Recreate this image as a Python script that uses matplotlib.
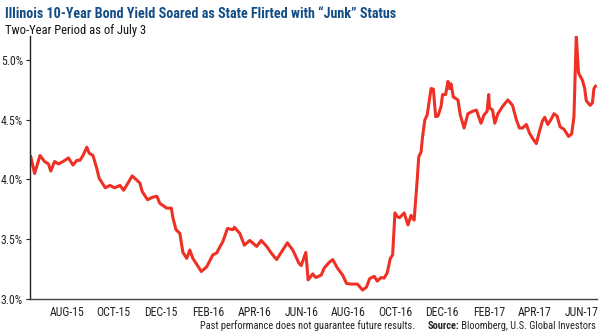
import numpy as np
import matplotlib
matplotlib.use("Agg")
import matplotlib.pyplot as plt

plt.rcParams["font.family"] = ["Roboto Condensed", "Archivo Narrow", "Asap Condensed", "DejaVu Sans"]
TITLE_FONT = ["Roboto Condensed", "Asap Condensed", "Saira Condensed", "DejaVu Sans"]

# Illinois 10-year bond yield, %
dates = [
    "2015-06-29", "2015-07-04", "2015-07-11", "2015-07-17", "2015-07-22", "2015-07-25",
    "2015-07-30", "2015-08-04", "2015-08-10", "2015-08-17", "2015-08-23", "2015-08-28",
    "2015-09-01", "2015-09-05", "2015-09-10", "2015-09-13", "2015-09-18", "2015-09-23",
    "2015-09-26", "2015-09-29", "2015-10-04", "2015-10-10", "2015-10-16", "2015-10-23",
    "2015-10-28", "2015-11-08", "2015-11-18", "2015-11-21", "2015-11-28", "2015-12-04",
    "2015-12-10", "2015-12-14", "2015-12-23", "2015-12-29", "2015-12-31", "2016-01-04",
    "2016-01-09", "2016-01-13", "2016-01-18", "2016-01-22", "2016-01-26", "2016-02-01",
    "2016-02-06", "2016-02-13", "2016-02-17", "2016-02-21", "2016-02-26", "2016-03-01",
    "2016-03-05", "2016-03-11", "2016-03-18", "2016-03-20", "2016-03-27", "2016-04-02",
    "2016-04-09", "2016-04-18", "2016-04-24", "2016-05-01", "2016-05-07", "2016-05-14",
    "2016-05-20", "2016-05-28", "2016-06-04", "2016-06-12", "2016-06-15", "2016-06-21",
    "2016-06-24", "2016-06-30", "2016-07-04", "2016-07-11", "2016-07-15", "2016-07-22",
    "2016-07-26", "2016-08-01", "2016-08-08", "2016-08-13", "2016-08-19", "2016-08-27",
    "2016-09-03", "2016-09-08", "2016-09-12", "2016-09-18", "2016-09-22", "2016-09-27",
    "2016-10-01", "2016-10-05", "2016-10-09", "2016-10-12", "2016-10-15", "2016-10-18",
    "2016-10-21", "2016-10-27", "2016-11-01", "2016-11-05", "2016-11-09", "2016-11-13",
    "2016-11-15", "2016-11-18", "2016-11-20", "2016-11-23", "2016-11-26", "2016-12-01",
    "2016-12-04", "2016-12-07", "2016-12-10", "2016-12-14", "2016-12-16", "2016-12-20",
    "2016-12-23", "2016-12-25", "2016-12-27", "2016-12-30", "2017-01-05", "2017-01-08",
    "2017-01-13", "2017-01-18", "2017-01-24", "2017-01-29", "2017-02-04", "2017-02-08",
    "2017-02-12", "2017-02-14", "2017-02-15", "2017-02-19", "2017-02-22", "2017-02-26",
    "2017-03-04", "2017-03-11", "2017-03-17", "2017-03-22", "2017-03-26", "2017-03-30",
    "2017-04-04", "2017-04-08", "2017-04-12", "2017-04-17", "2017-04-21", "2017-04-25",
    "2017-04-28", "2017-05-02", "2017-05-06", "2017-05-10", "2017-05-14", "2017-05-18",
    "2017-05-23", "2017-05-29", "2017-06-02", "2017-06-05", "2017-06-08", "2017-06-11",
    "2017-06-16", "2017-06-19", "2017-06-21", "2017-06-26", "2017-06-29", "2017-07-01",
    "2017-07-03",
]
yields = [
    4.19, 4.05, 4.20, 4.15, 4.13, 4.07,
    4.15, 4.13, 4.15, 4.18, 4.12, 4.16,
    4.16, 4.20, 4.27, 4.22, 4.20, 4.09,
    4.01, 3.98, 3.93, 3.95, 3.93, 3.95,
    3.91, 4.03, 3.97, 3.90, 3.83, 3.85,
    3.86, 3.80, 3.76, 3.76, 3.68, 3.58,
    3.55, 3.39, 3.34, 3.41, 3.34, 3.28,
    3.23, 3.27, 3.32, 3.37, 3.385, 3.435,
    3.48, 3.59, 3.58, 3.60, 3.55, 3.45,
    3.49, 3.44, 3.49, 3.44, 3.385, 3.33,
    3.39, 3.47, 3.41, 3.30, 3.28, 3.39,
    3.16, 3.21, 3.18, 3.20, 3.26, 3.31,
    3.33, 3.26, 3.20, 3.13, 3.125, 3.125,
    3.075, 3.10, 3.17, 3.19, 3.15, 3.18,
    3.175, 3.22, 3.34, 3.37, 3.72, 3.69,
    3.68, 3.72, 3.62, 3.70, 3.66, 4.00,
    4.19, 4.23, 4.36, 4.50, 4.54, 4.76,
    4.755, 4.525, 4.53, 4.61, 4.71, 4.71,
    4.82, 4.76, 4.80, 4.69, 4.665, 4.54,
    4.43, 4.55, 4.57, 4.58, 4.47, 4.54,
    4.57, 4.71, 4.60, 4.58, 4.47, 4.55,
    4.61, 4.665, 4.62, 4.50, 4.43, 4.43,
    4.46, 4.39, 4.345, 4.30, 4.40, 4.49,
    4.52, 4.46, 4.50, 4.55, 4.53, 4.44,
    4.42, 4.36, 4.38, 4.525, 5.20, 4.89,
    4.83, 4.76, 4.66, 4.62, 4.64, 4.76,
    4.78,
]

tick_dates = ["2015-08-15", "2015-10-15", "2015-12-15", "2016-02-15", "2016-04-15", "2016-06-15",
              "2016-08-15", "2016-10-15", "2016-12-15", "2017-02-15", "2017-04-15", "2017-06-15"]
tick_labels = ["AUG-15", "OCT-15", "DEC-15", "FEB-16", "APR-16", "JUN-16",
               "AUG-16", "OCT-16", "DEC-16", "FEB-17", "APR-17", "JUN-17"]
y_ticks = [3.0, 3.5, 4.0, 4.5, 5.0]

x = np.array(dates, dtype="datetime64[D]")
xt = np.array(tick_dates, dtype="datetime64[D]")

fig = plt.figure(figsize=(6.0, 3.33), dpi=100)
ax = fig.add_axes([0.050, 0.102, 0.945, 0.790])

ax.plot(x, yields, color="#ee3124", linewidth=2.2, solid_joinstyle="round")

ax.set_xlim(np.datetime64("2015-06-28"), np.datetime64("2017-07-05"))
ax.set_ylim(3.0, 5.2)

ax.set_xticks(xt)
ax.set_xticklabels(tick_labels)
ax.set_yticks(y_ticks)
ax.set_yticklabels(["%.1f%%" % v for v in y_ticks])

for s in ["top", "right"]:
    ax.spines[s].set_visible(False)
ax.spines["left"].set_color("#222222")
ax.spines["bottom"].set_color("#444444")
ax.spines["left"].set_linewidth(1.0)
ax.spines["bottom"].set_linewidth(1.0)

ax.tick_params(axis="x", length=0, labelsize=8.5, pad=5, colors="#222222")
ax.tick_params(axis="y", length=3, width=0.8, labelsize=8.5, pad=2, colors="#222222")

"Titles"
fig.text(0.009, 0.945, "Illinois 10-Year Bond Yield Soared as State Flirted with \u201cJunk\u201d Status",
         fontsize=10.2, fontweight="bold", color="#144d85", ha="left", va="baseline",
         family=TITLE_FONT)
fig.text(0.009, 0.897, "Two-Year Period as of July 3", fontsize=9, color="#111111",
         ha="left", va="baseline")

"Footer"
fig.text(0.692, 0.013, "Past performance does not guarantee future results.",
         fontsize=7.5, color="#222222", ha="right", va="baseline")
src = fig.text(0.993, 0.013, " Bloomberg, U.S. Global Investors",
               fontsize=7.5, color="#222222", ha="right", va="baseline")
fig.canvas.draw()
bb = src.get_window_extent().transformed(fig.transFigure.inverted())
fig.text(bb.x0, 0.013, "Source:", fontsize=7.5, fontweight="bold", color="#222222",
         ha="right", va="baseline")

plt.savefig("out.png", dpi=100)
